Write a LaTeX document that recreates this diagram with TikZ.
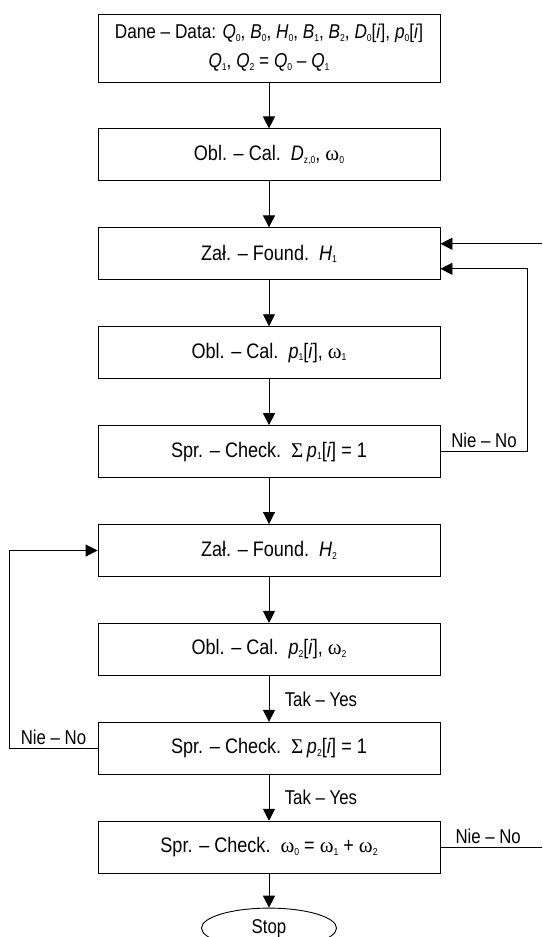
\documentclass[tikz,border=0pt]{standalone}
\usepackage{fontspec}
\setmainfont{Liberation Sans}[FakeStretch=0.84]
\newfontfamily\grk{Liberation Serif}
\usetikzlibrary{positioning, shapes.geometric, arrows.meta}

\newcommand{\vr}[2]{\textit{#1}{\fontsize{10}{10}\selectfont\raisebox{-2.5pt}{#2}}}
\newcommand{\om}[1]{{\grk ω}{\fontsize{10}{10}\selectfont\raisebox{-2.5pt}{#1}}}

\begin{document}
\begin{tikzpicture}[
    x=1pt, y=1pt,
    box/.style={
	draw,
	line width=0.9pt,
	minimum width=342pt,
	minimum height=52pt,
	font=\fontsize{21}{29}\selectfont\addfontfeature{FakeStretch=0.86},
	align=center,
	inner sep=0pt
    },
    lbl/.style={font=\fontsize{20}{22}\selectfont},
    node distance=46pt,
    every path/.style={line width=0.9pt},
    >={Triangle[width=12pt,length=12pt]}
]
	\useasboundingbox (0,0) rectangle (542,-937);
	\coordinate (redge) at (542,0);

	\node[box, minimum height=68pt, font=\fontsize{20}{29}\selectfont\addfontfeature{FakeStretch=0.86}] (data) at (269,-48)
	    {Dane -- Data: \vr{Q}{0}, \vr{B}{0}, \vr{H}{0}, \vr{B}{1}, \vr{B}{2}, \vr{D}{0}[\textit{i}], \vr{p}{0}[\textit{i}]\\
	     \vr{Q}{1}, \vr{Q}{2} = \vr{Q}{0} -- \vr{Q}{1}};
	\node[box, below=of data] (cal0) {Obl. -- Cal.\ \ \vr{D}{z,0}, \om{0}};
	\node[box, below=of cal0] (found1) {Zał. -- Found.\ \ \vr{H}{1}};
	\node[box, below=of found1] (cal1) {Obl. -- Cal.\ \ \vr{p}{1}[\textit{i}], \om{1}};
	\node[box, below=of cal1] (check1) {Spr. -- Check.\ \ {\grk Σ}\,\vr{p}{1}[\textit{i}] = 1};
	\node[box, below=of check1] (found2) {Zał. -- Found.\ \ \vr{H}{2}};
	\node[box, below=of found2] (cal2) {Obl. -- Cal.\ \ \vr{p}{2}[\textit{i}], \om{2}};
	\node[box, below=of cal2] (check2) {Spr. -- Check.\ \ {\grk Σ}\,\vr{p}{2}[\textit{i}] = 1};
	\node[box, below=of check2] (check3) {Spr. -- Check.\ \ \om{0} = \om{1} + \om{2}};
	\node[draw, ellipse, minimum width=135pt, minimum height=40pt,
	    lbl, below=34pt of check3] (stop) {Stop};

	% main line
	\draw[->] (data) -- (cal0);
	\draw[->] (cal0) -- (found1);
	\draw[->] (found1) -- (cal1);
	\draw[->] (cal1) -- (check1);
	\draw[->] (check1) -- (found2);
	\draw[->] (found2) -- (cal2);
	\draw[->] (cal2) -- (check2)
	    node[midway,right=12pt,lbl]{Tak -- Yes};
	\draw[->] (check2) -- (check3)
	    node[midway,right=12pt,lbl]{Tak -- Yes};
	\draw[->] (check3) -- (stop);

	% loop H1
	\coordinate (in1) at ([yshift=10pt]found1.east -| redge);
	\draw[->] (in1) -- ([yshift=10pt]found1.east);
	\draw[->] (check1.east) -- ++(87,0)
	    node[midway,above,lbl]{Nie -- No}
	    |- ([yshift=-15pt]found1.east);

	% loop H2
	\draw[->] (check2.west) -- ++(-88,0)
	    node[midway,above,lbl]{Nie -- No}
	    |- (found2.west);

	% final check
	\coordinate (out1) at (check3.east -| redge);
	\draw (check3.east) -- (out1)
	    node[pos=0.47,above,lbl]{Nie -- No};
\end{tikzpicture}
\end{document}
